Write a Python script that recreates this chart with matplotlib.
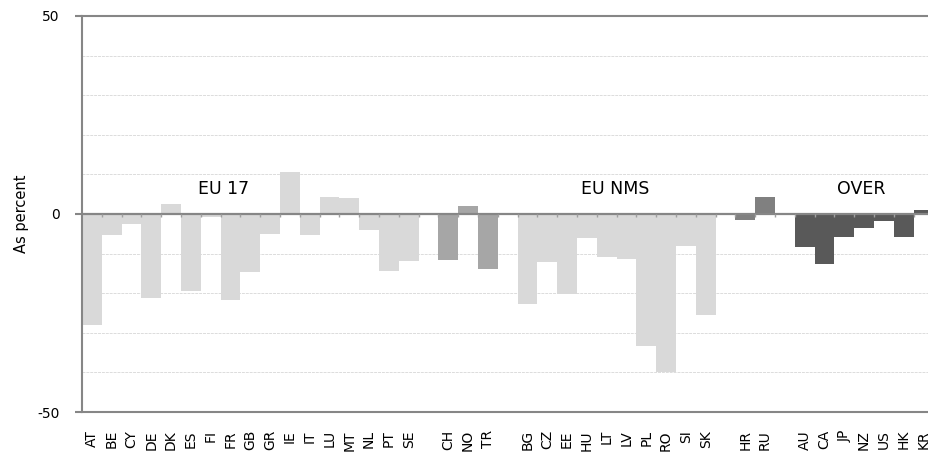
import numpy as np
import matplotlib
matplotlib.use("Agg")
import matplotlib.pyplot as plt

plt.rcParams['font.family'] = ['DejaVu Sans']

# values, as percent; groups are separated by an empty slot
eu17 = ["AT", "BE", "CY", "DE", "DK", "ES", "FI", "FR", "GB", "GR",
        "IE", "IT", "LU", "MT", "NL", "PT", "SE"]
eu17_vals = [-28.1, -5.4, -2.6, -21.2, 2.5, -19.5, -0.8, -21.7, -14.6, -5.0,
             10.5, -5.3, 4.2, 4.0, -4.0, -14.3, -11.9]
efta = ["CH", "NO", "TR"]
efta_vals = [-11.7, 2.1, -14.0]
nms = ["BG", "CZ", "EE", "HU", "LT", "LV", "PL", "RO", "SI", "SK"]
nms_vals = [-22.8, -12.2, -20.3, -6.0, -10.9, -11.3, -33.4, -39.8, -8.2, -25.5]
other = ["HR", "RU"]
other_vals = [-1.5, 4.3]
over = ["AU", "CA", "JP", "NZ", "US", "HK", "KR"]
over_vals = [-8.3, -12.6, -5.7, -3.6, -1.8, -5.7, 1.0]

groups = [(eu17, eu17_vals, "#d9d9d9"),
          (efta, efta_vals, "#a6a6a6"),
          (nms, nms_vals, "#d9d9d9"),
          (other, other_vals, "#808080"),
          (over, over_vals, "#595959")]

group_titles = ["EU 17", "EU NMS", "OVER"]
title_pos = [(6.67, 6.3), (26.44, 6.3), (38.85, 6.3)]

labels, vals, cols = [], [], []
for i, (names, v, c) in enumerate(groups):
    if i > 0:
        labels.append("")
        vals.append(0.0)
        cols.append("none")
    labels += names
    vals += v
    cols += [c] * len(names)

x = np.arange(len(labels))

fig = plt.figure(figsize=(9.29, 4.59), dpi=100)
ax = fig.add_axes([82 / 929, 47 / 459, 851.4 / 929, 396 / 459])

ax.bar(x, vals, width=1.0, color=cols, zorder=2)

ax.set_xlim(-0.5, len(labels) - 0.5)
ax.set_ylim(-50, 50)

# dashed gridlines between the labelled ticks
for g in [-40, -30, -20, -10, 10, 20, 30, 40]:
    ax.axhline(g, color="#dcdcdc", lw=0.7, ls=(0, (3, 1)), zorder=1)

# zero axis with small category-boundary ticks
ax.axhline(0, color="#868686", lw=1.6, zorder=3)
ax.vlines(x[:-1] + 0.5, -0.8, 0, color="#a0a0a0", lw=1.0, zorder=4)

ax.set_yticks([-50, 0, 50])
ax.set_yticklabels(["-50", "0", "50"], fontsize=10)
ax.tick_params(axis="y", length=5, color="#868686", width=1.5, pad=11)
ax.set_xticks(x)
ax.set_xticklabels(labels, rotation=90, fontsize=10)
ax.tick_params(axis="x", length=0, pad=13)

for s in ["left", "bottom", "top"]:
    ax.spines[s].set_color("#868686")
    ax.spines[s].set_linewidth(1.5)
ax.spines["right"].set_visible(False)

ax.set_ylabel("As percent", fontsize=10.5, labelpad=6)

for t, (tx, ty) in zip(group_titles, title_pos):
    ax.text(tx, ty, t, ha="center", va="center", fontsize=12.5, zorder=5)

fig.savefig("out.png", dpi=100)
